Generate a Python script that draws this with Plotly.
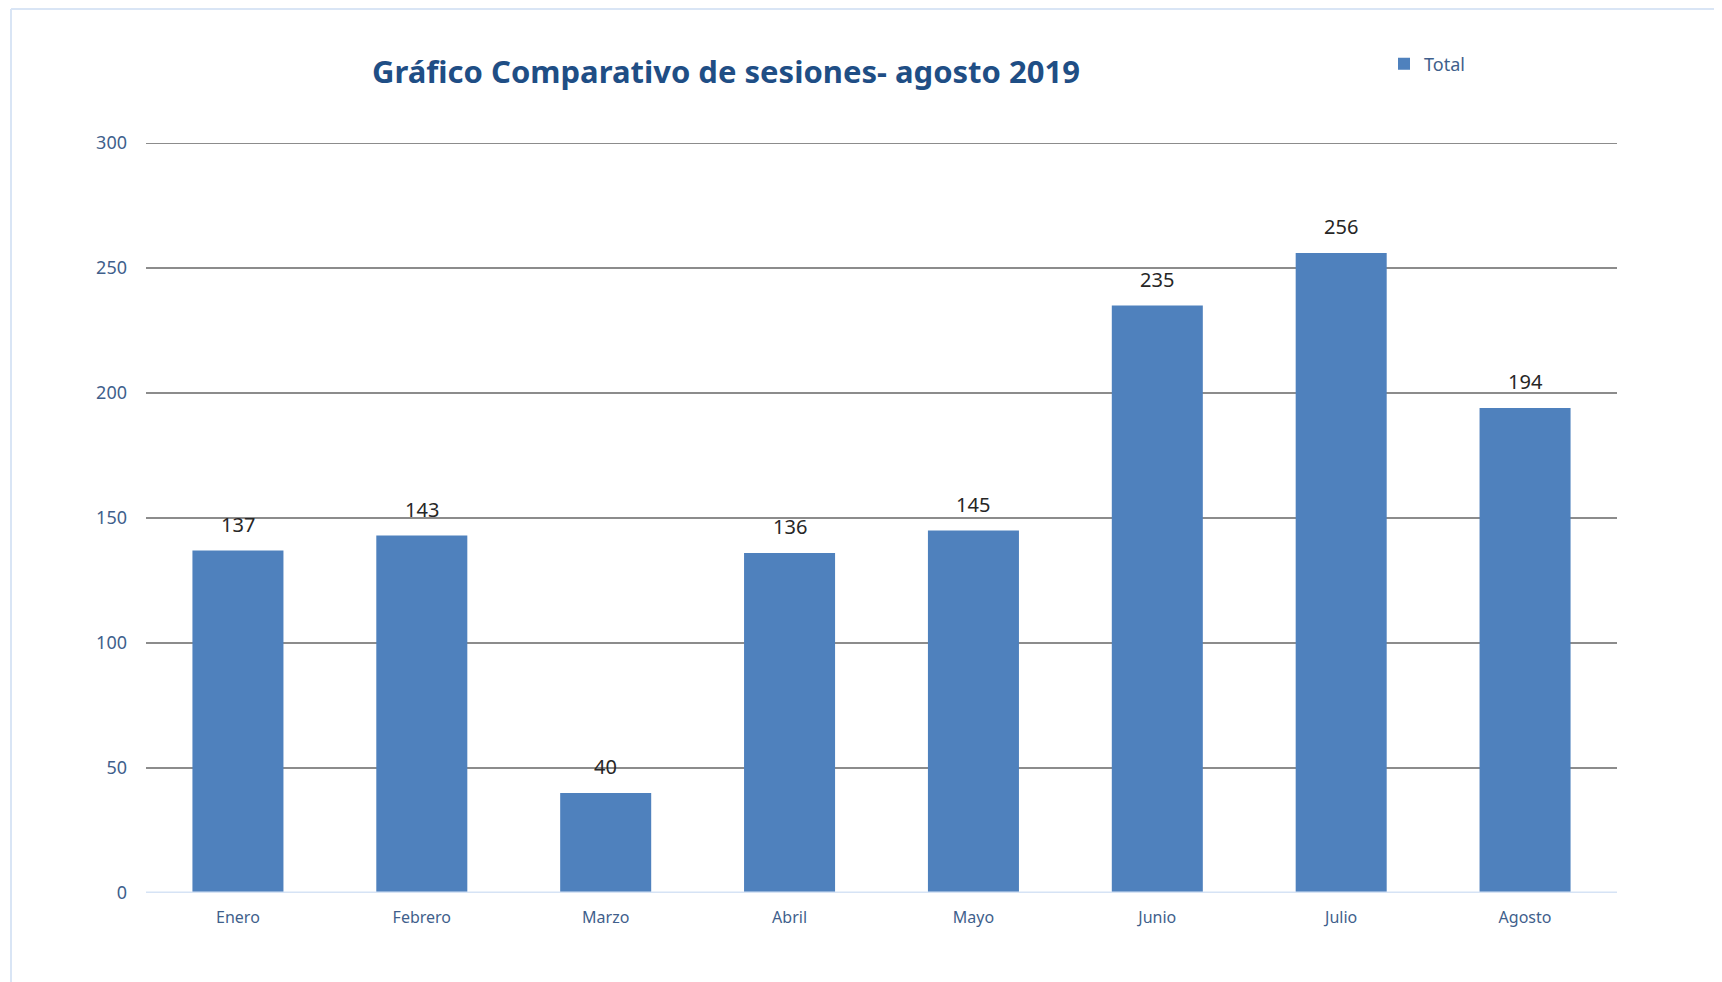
import plotly.graph_objects as go

categories = ["Enero", "Febrero", "Marzo", "Abril", "Mayo", "Junio", "Julio", "Agosto"]
totals = [137, 143, 40, 136, 145, 235, 256, 194]
y_ticks = [0, 50, 100, 150, 200, 250, 300]
series_name = "Total"
title_text = "Gráfico Comparativo de sesiones- agosto 2019"

OFF = 8  # default page body margin
W, H = 1722 - OFF, 982 - OFF
L, R, T, B = 146 - OFF, 105, 143 - OFF, 89
pw, ph = W - L - R, H - T - B

def px_x(p):
    return (p - OFF - L) / pw

def px_y(p):
    return (H - B - (p - OFF)) / ph

FONT = "Noto Sans"
BLUE_TXT = "#3f5f8c"

fig = go.Figure()
fig.add_trace(go.Bar(
    x=categories, y=totals, name=series_name,
    marker=dict(color="#4f81bd", line=dict(width=0)),
    showlegend=True,
))

for c, v in zip(categories, totals):
    fig.add_annotation(x=c, y=v, text=str(v), showarrow=False,
                       yanchor="bottom", yshift=11,
                       font=dict(family=FONT, size=20, color="#262626"))

fig.update_layout(
    width=W, height=H,
    margin=dict(l=L, r=R, t=T, b=B, autoexpand=False),
    paper_bgcolor="white", plot_bgcolor="white",
    bargap=0.505,
    title=dict(text="<b>" + title_text + "</b>", x=px_x(726), xref="paper", xanchor="center",
               y=1 - (72 - OFF) / H, yanchor="middle",
               font=dict(family=FONT, size=31, color="#1f4e85")),
    legend=dict(x=px_x(1384), y=px_y(64), xanchor="left", yanchor="middle",
                font=dict(family=FONT, size=18, color=BLUE_TXT),
                itemwidth=30, bgcolor="rgba(0,0,0,0)"),
    xaxis=dict(showgrid=False, showline=False, zeroline=False, ticks="",
               ticklabelstandoff=13,
               tickfont=dict(family=FONT, size=16, color=BLUE_TXT)),
    yaxis=dict(range=[0, 300], tickvals=y_ticks, showgrid=True, gridcolor="#8c8c8c",
               gridwidth=2, zeroline=False, showline=False, ticks="",
               ticklabelstandoff=18,
               tickfont=dict(family=FONT, size=18, color=BLUE_TXT)),
)

# top gridline at the range edge
fig.add_shape(type="line", xref="paper", yref="y", x0=0, x1=1, y0=y_ticks[-1], y1=y_ticks[-1],
              line=dict(color="#8c8c8c", width=2), layer="below")
# zero baseline (light blue)
fig.add_shape(type="line", xref="paper", yref="y", x0=0, x1=1, y0=0, y1=0,
              line=dict(color="#d6e3f5", width=3), layer="above")
# outer chart border (light blue), left and top edges
fig.add_shape(type="line", xref="paper", yref="paper", x0=px_x(11), x1=px_x(11),
              y0=px_y(9), y1=px_y(1000), line=dict(color="#d9e5f5", width=2))
fig.add_shape(type="line", xref="paper", yref="paper", x0=px_x(11), x1=px_x(1740),
              y0=px_y(9), y1=px_y(9), line=dict(color="#d9e5f5", width=2))

fig.write_html("out.html")
